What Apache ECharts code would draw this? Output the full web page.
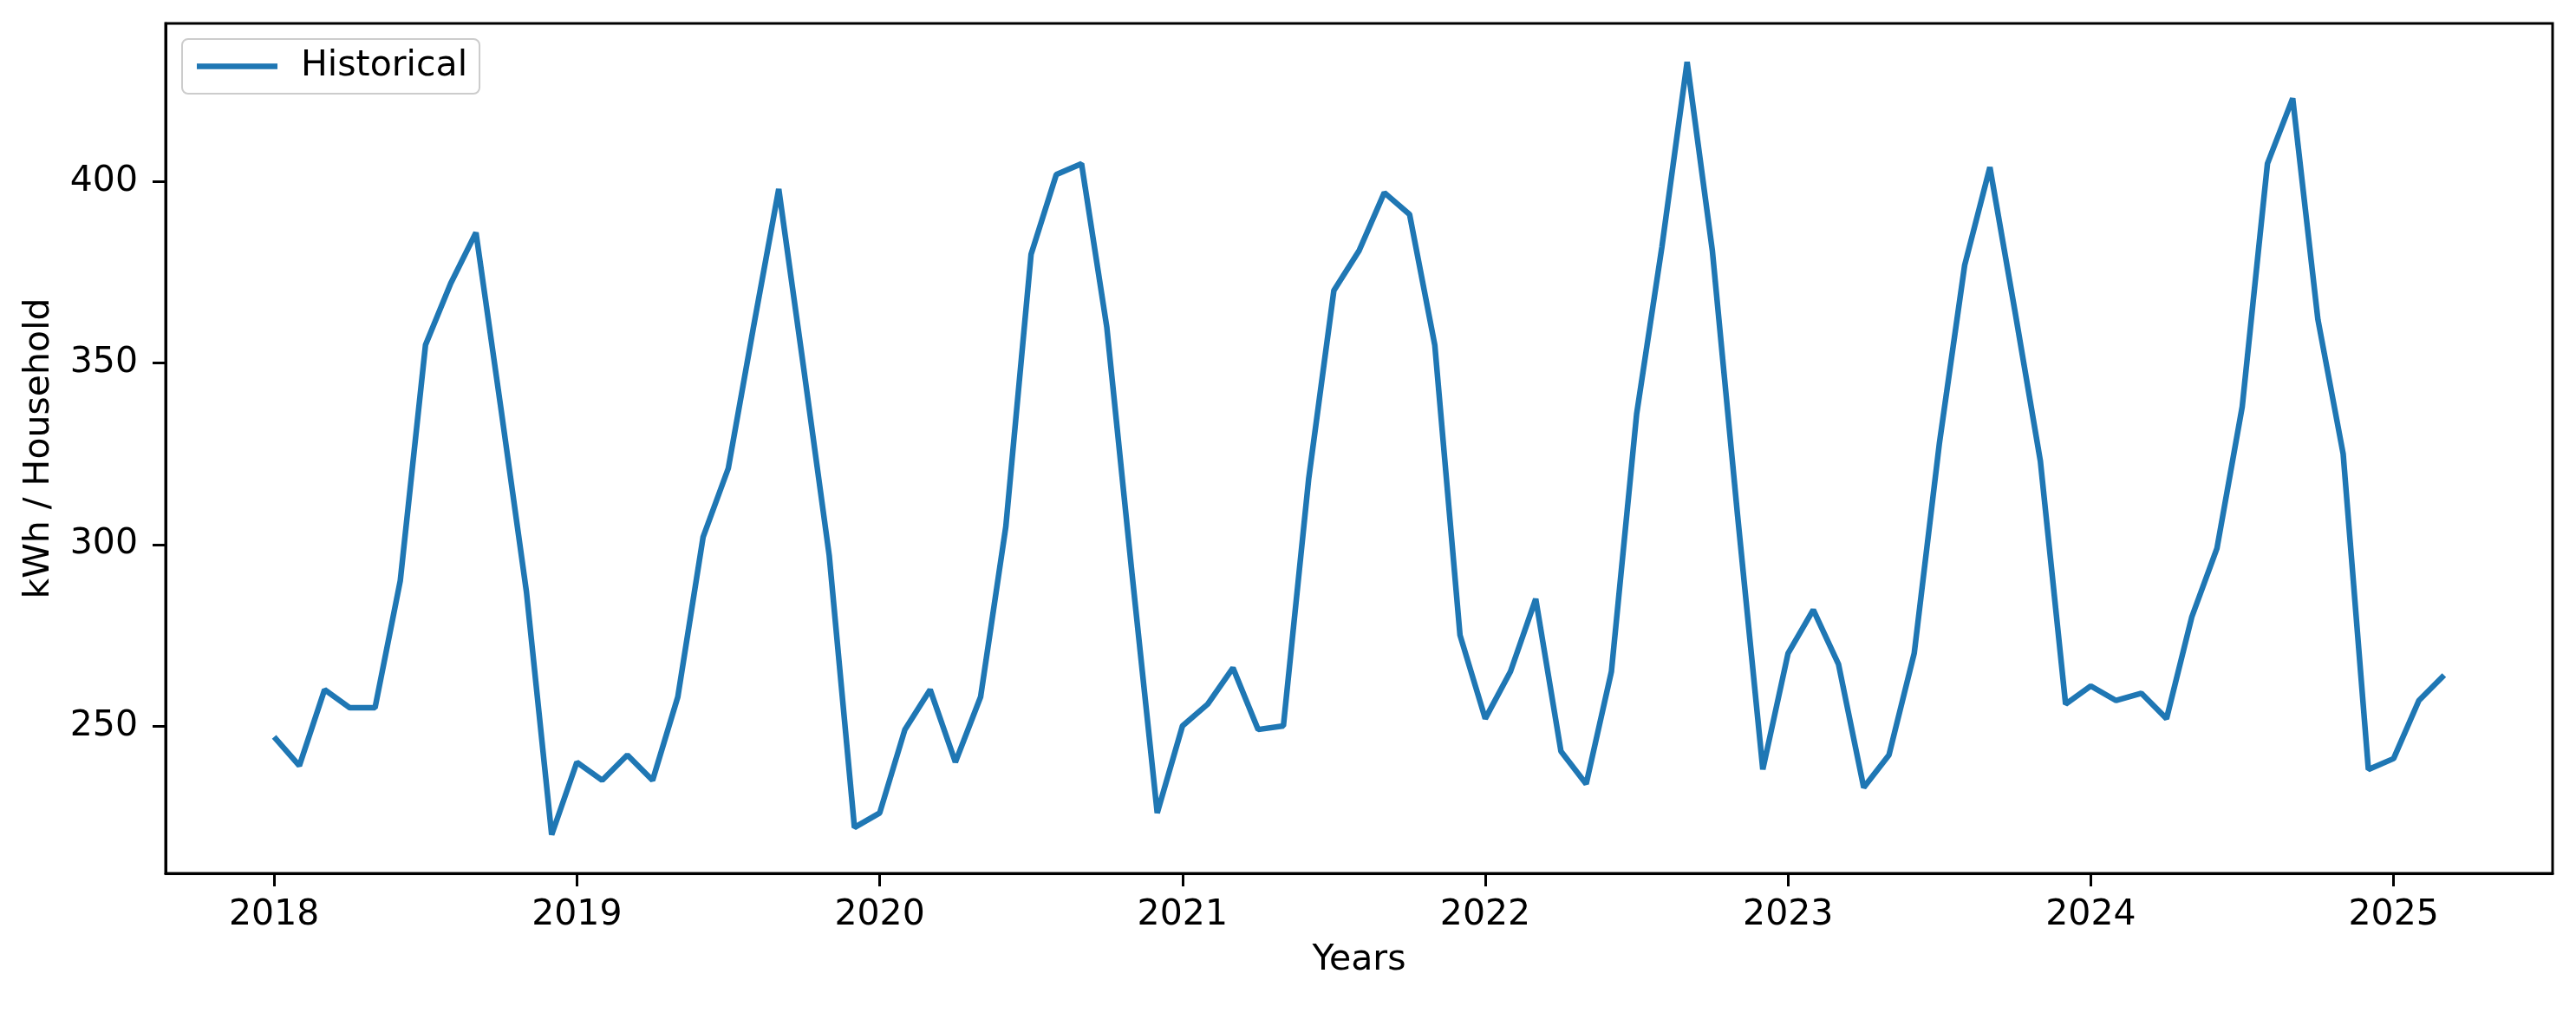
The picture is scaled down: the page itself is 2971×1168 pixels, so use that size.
<!DOCTYPE html>
<html>
<head>
<meta charset="utf-8">
<script src="https://cdn.jsdelivr.net/npm/echarts@6/dist/echarts.min.js"></script>
<style>
  html, body { margin: 0; padding: 0; background: #fff; }
  #chart { width: 2971px; height: 1168px; }
</style>
</head>
<body>
<div id="chart"></div>
<script>
// monthly values starting Jan 2018
const startYear = 2018;
const kwh2018 = [247, 239, 260, 255, 255, 290, 355, 372, 386, 337, 287, 220];
const kwh2019 = [240, 235, 242, 235, 258, 302, 321, 360, 398, 348, 297, 222];
const kwh2020 = [226, 249, 260, 240, 258, 305, 380, 402, 405, 360, 292, 226];
const kwh2021 = [250, 256, 266, 249, 250, 318, 370, 381, 397, 391, 355, 275];
const kwh2022 = [252, 265, 285, 243, 234, 265, 336, 382, 433, 381, 308, 238];
const kwh2023 = [270, 282, 267, 233, 242, 270, 328, 377, 404, 364, 323, 256];
const kwh2024 = [261, 257, 259, 252, 280, 299, 338, 405, 423, 362, 325, 238];
const kwh2025 = [241, 257, 264];
const yearTicks = [2018, 2019, 2020, 2021, 2022, 2023, 2024, 2025];
const valueTicks = [250, 300, 350, 400];

const historical = [].concat(kwh2018, kwh2019, kwh2020, kwh2021, kwh2022, kwh2023, kwh2024, kwh2025);
const points = historical.map((v, i) => [startYear + i / 12, v]);

// matplotlib style 5% margins
const xs = points.map(p => p[0]);
const xPad = (Math.max(...xs) - Math.min(...xs)) * 0.05;
const yPad = (Math.max(...historical) - Math.min(...historical)) * 0.05;

const font = "DejaVu Sans";
const chart = echarts.init(document.getElementById("chart"));
chart.setOption({
    animation: false,
    textStyle: { fontFamily: font },
    grid: {
        left: 191, right: 27, top: 27, bottom: 161,
        show: true, borderColor: "#000", borderWidth: 3,
        containLabel: false
    },
    legend: {
        left: 210, top: 45,
        padding: [11, 14, 11, 17],
        borderColor: "#cccccc", borderWidth: 2, borderRadius: 7,
        icon: "rect", itemWidth: 93, itemHeight: 6.5,
        textStyle: { fontSize: 41, color: "#000", padding: [0, 0, 0, 22], fontFamily: font },
        data: ["Historical"]
    },
    xAxis: {
        type: "value",
        min: Math.min(...xs) - xPad,
        max: Math.max(...xs) + xPad,
        name: "Years", nameLocation: "middle", nameGap: 80,
        nameTextStyle: { fontSize: 41, color: "#000" },
        axisLine: { show: true, onZero: false, lineStyle: { color: "#000", width: 3 } },
        axisTick: { show: true, customValues: yearTicks, length: 15, lineStyle: { color: "#000", width: 3 } },
        axisLabel: { customValues: yearTicks, margin: 28, fontSize: 41, color: "#000", formatter: v => String(v) },
        splitLine: { show: false }
    },
    yAxis: {
        type: "value",
        min: Math.min(...historical) - yPad,
        max: Math.max(...historical) + yPad,
        name: "kWh / Household", nameLocation: "middle", nameGap: 125,
        nameTextStyle: { fontSize: 41, color: "#000" },
        axisLine: { show: true, onZero: false, lineStyle: { color: "#000", width: 3 } },
        axisTick: { show: true, customValues: valueTicks, length: 15, lineStyle: { color: "#000", width: 3 } },
        axisLabel: { customValues: valueTicks, margin: 32, fontSize: 41, color: "#000" },
        splitLine: { show: false }
    },
    series: [
        {
            name: "Historical",
            type: "line",
            data: points,
            showSymbol: false,
            symbol: "none",
            lineStyle: { color: "#1f77b4", width: 6.5 },
            itemStyle: { color: "#1f77b4" }
        }
    ]
});
</script>
</body>
</html>
